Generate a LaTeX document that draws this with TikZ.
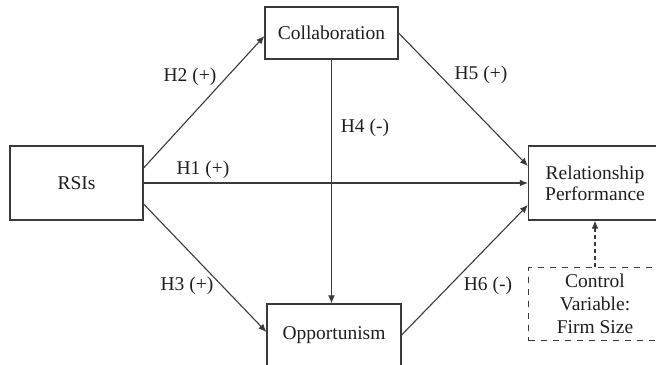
\documentclass[tikz,border=0pt]{standalone}
\usepackage{fontspec}
\setmainfont{Liberation Serif}
\usetikzlibrary{arrows.meta,calc}
\definecolor{linec}{HTML}{3A3A3A}
\definecolor{textc}{HTML}{1E1E1E}
\begin{document}
\begin{tikzpicture}[x=0.5pt,y=-0.5pt,
  box/.style={draw=linec,line width=0.6pt,rectangle,inner sep=0pt,minimum width=66.5pt,text=textc,align=center,font=\fontsize{9.75}{10.5}\selectfont},
  lbl/.style={text=textc,inner sep=0pt,font=\fontsize{9.75}{11}\selectfont},
  conn/.style={draw=linec,line width=0.55pt,-{Latex[length=4pt,width=3.4pt]}}]
\useasboundingbox (0,0) rectangle (656,364);
\clip (0,0) rectangle (656,364);
\node[box,minimum height=37pt] (rsi) at (76.5,183) {RSIs};
\node[box,minimum height=26pt] (col) at (331.5,33) {Collaboration};
\node[box,minimum height=31pt,minimum width=67pt] (opp) at (334,335) {Opportunism};
\node[box,minimum height=37pt] (rp) at (595,183) {Relationship\\Performance};
\node[box,minimum height=36.5pt,dashed,font=\fontsize{9.75}{11.5}\selectfont] (ctrl) at (595,304) {Control\\Variable:\\Firm Size};
\draw[conn] ([yshift=7.5pt]rsi.east) -- ([yshift=-1.5pt]col.west);
\draw[conn] (rsi.east) -- (rp.west);
\draw[conn] ([yshift=-10.5pt]rsi.east) -- ([yshift=1.5pt]opp.west);
\draw[conn] (col.south) -- (col.south |- opp.north);
\draw[conn] (col.east) -- ([yshift=8.5pt]rp.west);
\draw[conn] (opp.east) -- ([yshift=-11pt]rp.west);
\draw[conn,dashed,dash pattern=on 2pt off 1.5pt] (ctrl.north) -- (rp.south);
\node[lbl] (h2) at (190,77) {H2 (+)};
\node[lbl] (h1) at (203,170) {H1 (+)};
\node[lbl] (h3) at (187,286) {H3 (+)};
\node[lbl] (h4) at (365,128) {H4 (-)};
\node[lbl] (h5) at (481,75) {H5 (+)};
\node[lbl] (h6) at (488,286) {H6 (-)};
\end{tikzpicture}
\end{document}
